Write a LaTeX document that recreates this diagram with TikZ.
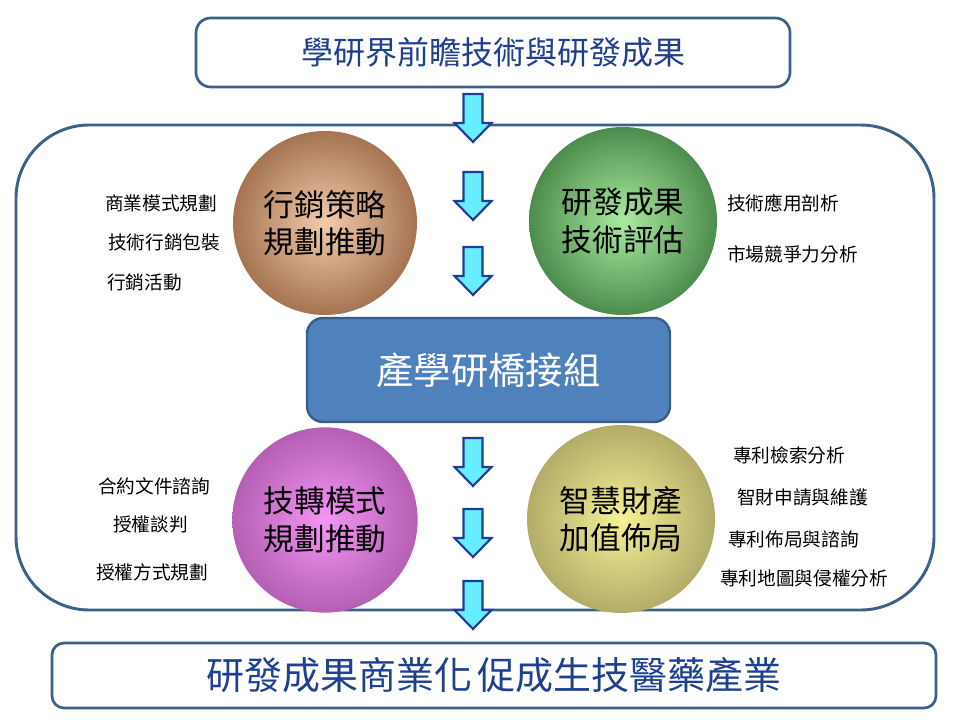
\documentclass[tikz,border=0pt]{standalone}
\usepackage{fontspec}
\setmainfont{Noto Sans CJK TC}
\usetikzlibrary{shapes.geometric}
\definecolor{frame}{HTML}{3E5F8C}
\definecolor{titleblue}{HTML}{1F3F8F}
\definecolor{boxblue}{HTML}{4F81BD}
\definecolor{boxedge}{HTML}{385D8A}
\definecolor{arrfill}{HTML}{66EEFF}
\definecolor{arredge}{HTML}{1F3C99}
\tikzset{
  titlebox/.style={draw=frame, line width=2pt, rounded corners=11pt, fill=white, text=titleblue},
  ball/.style={circle, inner sep=0pt, align=center, font=\fontsize{23}{28}\selectfont, text=black},
  side/.style={anchor=west, inner sep=0pt, font=\fontsize{14}{16}\selectfont, text=black},
  downarrow/.pic={\draw[fill=arrfill, draw=arredge, line width=1.6pt, line join=miter]
     (-9.5,0) -- (9.5,0) -- (9.5,29) -- (18.5,29) -- (0,48) -- (-18.5,29) -- (-9.5,29) -- cycle;}
}
\begin{document}
\begin{tikzpicture}[x=0.75pt, y=-0.75pt]
\useasboundingbox (0,0) rectangle (960,720);
% big container
\node[draw=frame, line width=2.2pt, rounded corners=55pt, minimum width=688.5pt, minimum height=363.75pt, inner sep=0pt] (cont) at (475,367.5) {};
% top and bottom boxes
\node[titlebox, minimum width=445.5pt, minimum height=51.75pt, font=\fontsize{24}{28}\selectfont] (top) at (493,52.5) {學研界前瞻技術與研發成果};
\node[titlebox, rounded corners=9pt, minimum width=663pt, minimum height=48.75pt, font=\fontsize{28.5}{31}\selectfont] (bot) at (494,675.5) {研發成果商業化\hspace{0.15em}促成生技醫藥產業};
% circles
\node[ball, minimum size=138pt, shading=radial, inner color={rgb,255:red,242;green,204;blue,172}, outer color={rgb,255:red,165;green,116;blue,82}] (c1) at (325,223) {行銷策略\\規劃推動};
\node[ball, minimum size=141pt, shading=radial, inner color={rgb,255:red,170;green,235;blue,160}, outer color={rgb,255:red,78;green,140;blue,78}] (c2) at (623,221) {研發成果\\技術評估};
\node[ball, minimum size=139pt, shading=radial, inner color={rgb,255:red,245;green,150;blue,245}, outer color={rgb,255:red,180;green,95;blue,180}] (c3) at (325,520) {技轉模式\\規劃推動};
\node[ball, minimum size=141pt, shading=radial, inner color={rgb,255:red,245;green,242;blue,150}, outer color={rgb,255:red,178;green,172;blue,105}] (c4) at (621,519) {智慧財產\\加值佈局};
% middle box
\node[draw=boxedge, fill=boxblue, line width=1.8pt, rounded corners=12pt, minimum width=272.25pt, minimum height=78pt, text=white, font=\fontsize{28}{32}\selectfont] (mid) at (488.5,370) {產學研橋接組};
% arrows
\pic (a1) at (473,94) {downarrow};
\pic (a2) at (473,172) {downarrow};
\pic (a3) at (473,247) {downarrow};
\pic (a4) at (473,438) {downarrow};
\pic (a5) at (473,509) {downarrow};
\pic (a6) at (473,581) {downarrow};
% side labels
\node[side] (l1) at (105,203) {商業模式規劃};
\node[side] (l2) at (108,242) {技術行銷包裝};
\node[side] (l3) at (107,282) {行銷活動};
\node[side] (r1) at (727,203) {技術應用剖析};
\node[side] (r2) at (727,254) {市場競爭力分析};
\node[side] (l4) at (98,486) {合約文件諮詢};
\node[side] (l5) at (113,524) {授權談判};
\node[side] (l6) at (96,572) {授權方式規劃};
\node[side] (r3) at (733,455) {專利檢索分析};
\node[side] (r4) at (737,497) {智財申請與維護};
\node[side] (r5) at (728,539) {專利佈局與諮詢};
\node[side] (r6) at (720,578) {專利地圖與侵權分析};
\end{tikzpicture}
\end{document}
